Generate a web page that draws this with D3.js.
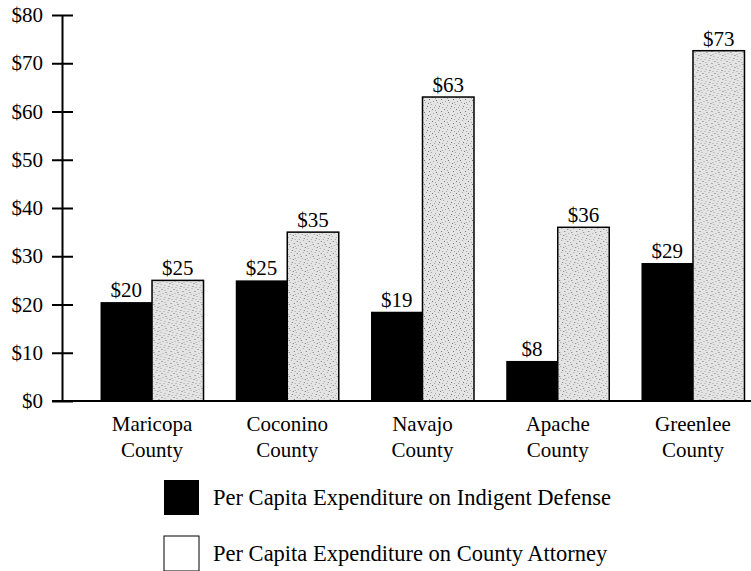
<!DOCTYPE html>
<html>
<head>
<meta charset="utf-8">
<script src="https://cdn.jsdelivr.net/npm/d3@7"></script>
<style>
  body { margin: 0; background: #fff; }
  svg { font-family: "Liberation Serif", "DejaVu Serif", serif; }
</style>
</head>
<body>
<svg id="chart" width="751" height="571"></svg>
<script>
/** Categories (two-line labels) */
var counties = ["Maricopa County", "Coconino County", "Navajo County", "Apache County", "Greenlee County"];

/** Series values */
var indigentDefense = [20.5, 25, 18.5, 8.3, 28.6];
var countyAttorney = [25, 35, 63, 36, 72.6];

/** Labels printed above the bars */
var indigentLabels = ["$20", "$25", "$19", "$8", "$29"];
var attorneyLabels = ["$25", "$35", "$63", "$36", "$73"];

var seriesNames = ["Per Capita Expenditure on Indigent Defense",
                   "Per Capita Expenditure on County Attorney"];

var yTicks = [0, 10, 20, 30, 40, 50, 60, 70, 80];

var svg = d3.select("#chart");

// scales
var y = d3.scaleLinear().domain([0, 80]).range([401, 15]);
var x0 = d3.scaleBand().domain(counties).range([84.4, 760.6]).paddingInner(0.2384).paddingOuter(0.1192);
var x1 = d3.scaleBand().domain(["def", "att"]).range([0, x0.bandwidth()]);

// stipple pattern for the attorney bars
var defs = svg.append("defs");
var pat = defs.append("pattern")
    .attr("id", "stipple")
    .attr("patternUnits", "userSpaceOnUse")
    .attr("width", 12).attr("height", 12);
pat.append("rect").attr("width", 12).attr("height", 12).attr("fill", "#e4e4e4");
var dots = [[1, 1], [4, 2], [7, 0], [10, 3], [2, 5], [6, 6], [9, 7], [0, 8], [4, 9], [8, 10], [11, 11], [3, 11], [5, 4], [11, 6]];
dots.forEach(function(p, i) {
    pat.append("rect").attr("x", p[0]).attr("y", p[1])
        .attr("width", 1).attr("height", 1)
        .attr("fill", i % 3 === 0 ? "#777" : "#a5a5a5");
});

// bars
var groups = svg.selectAll("g.county")
    .data(counties)
    .enter().append("g")
    .attr("class", "county")
    .attr("transform", function(d) { return "translate(" + x0(d) + ",0)"; });

groups.append("rect")
    .attr("x", x1("def"))
    .attr("y", function(d, i) { return y(indigentDefense[i]); })
    .attr("width", x1.bandwidth())
    .attr("height", function(d, i) { return y(0) - y(indigentDefense[i]); })
    .attr("fill", "#000");

groups.append("rect")
    .attr("x", x1("att"))
    .attr("y", function(d, i) { return y(countyAttorney[i]); })
    .attr("width", x1.bandwidth())
    .attr("height", function(d, i) { return y(0) - y(countyAttorney[i]); })
    .attr("fill", "url(#stipple)")
    .attr("stroke", "#000")
    .attr("stroke-width", 1.5);

// value labels
groups.append("text")
    .attr("x", x1("def") + x1.bandwidth() / 2)
    .attr("y", function(d, i) { return y(indigentDefense[i]) - 5; })
    .attr("text-anchor", "middle")
    .attr("font-size", 21)
    .text(function(d, i) { return indigentLabels[i]; });

groups.append("text")
    .attr("x", x1("att") + x1.bandwidth() / 2)
    .attr("y", function(d, i) { return y(countyAttorney[i]) - 5; })
    .attr("text-anchor", "middle")
    .attr("font-size", 21)
    .text(function(d, i) { return attorneyLabels[i]; });

// category labels, two lines
groups.append("text")
    .attr("text-anchor", "middle")
    .attr("font-size", 21)
    .selectAll("tspan")
    .data(function(d) { return d.split(" "); })
    .enter().append("tspan")
    .attr("x", x0.bandwidth() / 2)
    .attr("y", function(d, i) { return 431 + i * 26; })
    .text(function(d) { return d; });

// y axis
var yAxis = d3.axisLeft(y)
    .tickValues(yTicks)
    .tickSize(0)
    .tickPadding(19)
    .tickFormat(function(d) { return "$" + d; });

var ax = svg.append("g")
    .attr("transform", "translate(62,0)")
    .call(yAxis);
ax.select(".domain").attr("stroke", "#000").attr("stroke-width", 2);
ax.selectAll(".tick text")
    .attr("font-family", "Liberation Serif")
    .attr("font-size", 21)
    .attr("fill", "#000");
ax.selectAll(".tick").append("line")
    .attr("x1", -10).attr("x2", 11)
    .attr("stroke", "#000").attr("stroke-width", 2);

// baseline
svg.append("line")
    .attr("x1", 52).attr("x2", 751)
    .attr("y1", y(0)).attr("y2", y(0))
    .attr("stroke", "#000").attr("stroke-width", 2);

// legend
var legend = svg.selectAll("g.legend")
    .data(seriesNames)
    .enter().append("g")
    .attr("class", "legend")
    .attr("transform", function(d, i) { return "translate(164," + (480 + i * 56) + ")"; });

legend.append("rect")
    .attr("width", 35).attr("height", 35)
    .attr("fill", function(d, i) { return i === 0 ? "#000" : "#fff"; })
    .attr("stroke", "#000")
    .attr("stroke-width", function(d, i) { return i === 0 ? 0 : 1; });

legend.append("text")
    .attr("x", 49)
    .attr("y", 17)
    .attr("dy", "0.35em")
    .attr("font-size", 22.5)
    .text(function(d) { return d; });
</script>
</body>
</html>
